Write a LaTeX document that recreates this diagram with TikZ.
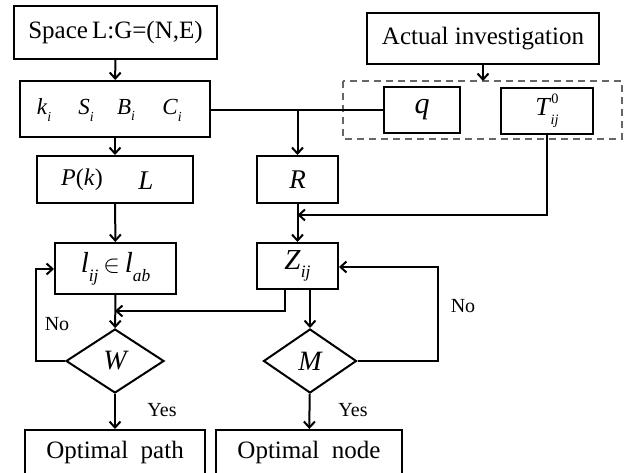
\documentclass[tikz,border=0pt]{standalone}
\usepackage{fontspec}
\setmainfont{Liberation Serif}
\usetikzlibrary{arrows.meta,shapes.geometric}
\newcommand{\isub}[2]{\textit{#1}\raisebox{-0.3em}{\scalebox{0.6}{\textit{#2}}}}
\begin{document}
\begin{tikzpicture}[x=1pt,y=-1pt,
  box/.style={draw,line width=2pt,rectangle,inner sep=0pt,font=\fontsize{25}{28}\selectfont},
  dia/.style={draw,line width=2pt,diamond,inner sep=0pt,font=\fontsize{28}{30}\selectfont\itshape},
  con/.style={line width=2pt},
  arr/.style={line width=2pt,-{Straight Barb[length=6pt,width=11pt,line width=2pt]}},
  lab/.style={font=\fontsize{20}{22}\selectfont}]
\useasboundingbox (0,0) rectangle (630,473);
\clip (0,0) rectangle (630,473);
\node[box,minimum width=203pt,minimum height=53pt] (space) at (115.5,32.5) {Space\,L:G=(N,E)};
\node[box,minimum width=190pt,minimum height=56pt] (ksbc) at (115,109) {};
\node[font=\fontsize{23}{25}\selectfont] at (44,110) {\isub{k}{i}};
\node[font=\fontsize{23}{25}\selectfont] at (86,110) {\isub{S}{i}};
\node[font=\fontsize{23}{25}\selectfont] at (126,110) {\isub{B}{i}};
\node[font=\fontsize{23}{25}\selectfont] at (172,110) {\isub{C}{i}};
\node[box,minimum width=156pt,minimum height=47pt] (pk) at (115,179.5) {};
\node[font=\fontsize{24}{26}\selectfont] at (82,180) {\textit{P}(\textit{k})};
\node[font=\fontsize{27}{29}\selectfont\itshape] at (146,181) {L};
\node[box,minimum width=81pt,minimum height=47pt,font=\fontsize{27}{29}\selectfont\itshape] (R) at (297.5,179.5) {R};
\node[box,minimum width=232pt,minimum height=51pt] (act) at (483,38.5) {Actual investigation};
\draw[line width=2pt,gray!80!black,dash pattern=on 7pt off 5pt] (343,81) rectangle (622,139);
\coordinate (dtop) at (483,81);
\node[box,minimum width=76pt,minimum height=46pt,font=\fontsize{30}{32}\selectfont\itshape] (q) at (422,110) {q};
\node[box,minimum width=92pt,minimum height=46pt,font=\fontsize{26}{28}\selectfont] (T) at (547,111) {\textit{T}\raisebox{0.45em}{\scalebox{0.55}{0}}\kern-0.3em\raisebox{-0.35em}{\scalebox{0.55}{\textit{ij}}}};
\node[box,minimum width=121pt,minimum height=51pt,font=\fontsize{29}{31}\selectfont] (l) at (115.5,268.5) {\isub{l}{ij}\,$\in$\,\isub{l}{ab}};
\node[box,minimum width=81pt,minimum height=46pt,font=\fontsize{29}{31}\selectfont] (Z) at (297.5,266) {\isub{Z}{ij}};
\node[dia,minimum width=98pt,minimum height=64pt,aspect=1.5] (W) at (115,361) {W};
\node[dia,minimum width=93pt,minimum height=64pt,aspect=1.5] (M) at (310,361) {M};
\node[box,minimum width=180pt,minimum height=60pt,anchor=north] (op) at (115,429) {};
\node[font=\fontsize{25}{28}\selectfont] at (115,452) {Optimal\ \ path};
\node[box,minimum width=186pt,minimum height=60pt,anchor=north] (on) at (309,429) {};
\node[font=\fontsize{25}{28}\selectfont] at (309,452) {Optimal\ \ node};
% connectors
\draw[arr] (space) -- (ksbc);
\draw[arr] (ksbc) -- (pk);
\draw[con] (ksbc.east |- 0,110) -- (q.west);
\draw[arr] (297.5,110) -- (R.north);
\draw[arr] (act.south -| dtop) -- (dtop);
\coordinate (tj) at (297.5,215);
\draw[arr] (T.south) |- (tj);
\draw[arr] (R) -- (Z);
\draw[arr] (pk) -- (l);
\draw[arr] (l) -- (W);
\coordinate (zl) at (115,311);
\draw[arr] (285,289) |- (zl);
\draw[arr] (W.west) -- (36,361) |- (l.west |- 0,269);
\draw[arr] (310,289) -- (M.north);
\draw[arr] (M.east) -- (438,361) |- (Z.east |- 0,267);
\draw[arr] (W) -- (op);
\draw[arr] (M) -- (on);
\node[lab] at (57,324) {No};
\node[lab] at (162,410) {Yes};
\node[lab] at (463,306) {No};
\node[lab] at (353,410) {Yes};
\end{tikzpicture}
\end{document}
